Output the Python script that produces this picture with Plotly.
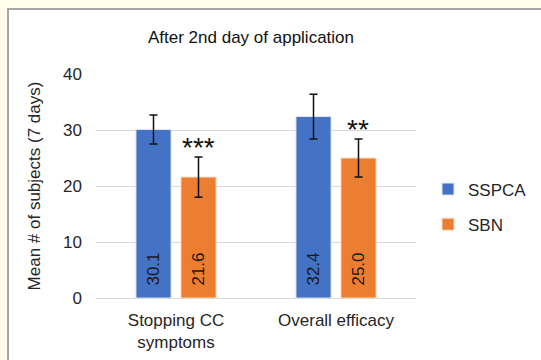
import plotly.graph_objects as go

categories = ["Stopping CC<br>symptoms", "Overall efficacy"]
sspca = [30.1, 32.4]
sbn = [21.6, 25.0]
sspca_err = [2.6, 4.0]
sbn_err = [3.6, 3.4]
significance = ["***", "**"]
y_ticks = [0, 10, 20, 30, 40]

W, H = 541, 360
L, R, T, B = 96, 125, 74, 62
pw, ph = W - L - R, H - T - B

def px_x(p):
    return (p - L) / pw

def px_y(p):
    return (H - B - p) / ph

blue = "#4472C4"
orange = "#ED7D31"
txt = "#262626"
font = "Liberation Sans, Arial, sans-serif"

fig = go.Figure()
fig.add_trace(go.Bar(
    name="SSPCA", x=categories, y=sspca,
    marker=dict(color=blue, line=dict(color="#dfe6f3", width=1)),
    error_y=dict(type="data", array=sspca_err, color="#111", thickness=1.5, width=4),
    text=["\u00a0\u00a0" + f"{v:.1f}" for v in sspca],
    textposition="inside", insidetextanchor="start", textangle=-90,
    textfont=dict(size=17, color="#1a1a1a", family=font),
    legendgroup="a",
))
fig.add_trace(go.Bar(
    name="SBN", x=categories, y=sbn,
    marker=dict(color=orange, line=dict(color="#f7dccb", width=1)),
    error_y=dict(type="data", array=sbn_err, color="#111", thickness=1.5, width=4),
    text=["\u00a0\u00a0" + f"{v:.1f}" for v in sbn],
    textposition="inside", insidetextanchor="start", textangle=-90,
    textfont=dict(size=17, color="#1a1a1a", family=font),
    legendgroup="b",
))

for c, v, e, s in zip(categories, sbn, sbn_err, significance):
    fig.add_annotation(x=c, y=v + e, text=s, showarrow=False, xshift=22,
                       yanchor="bottom", yshift=-8,
                       font=dict(size=28, color="#111", family=font))

# outer frame
fig.add_shape(type="rect", xref="paper", yref="paper",
              x0=px_x(8), x1=px_x(560), y0=px_y(380), y1=px_y(9),
              fillcolor="white", line=dict(color="#A6A6A6", width=2), layer="below")

fig.update_layout(
    width=W, height=H,
    margin=dict(l=L, r=R, t=T, b=B, pad=0, autoexpand=False),
    paper_bgcolor="#FFFDEB",
    plot_bgcolor="rgba(0,0,0,0)",
    barmode="group", bargap=0.4375, bargroupgap=0.22,
    font=dict(family=font, size=17, color=txt),
    title=dict(text="After 2nd day of application", x=251 / W, xanchor="center",
               y=1 - 37 / H, yanchor="middle", font=dict(size=17, color="#111")),
    legend=dict(x=px_x(428), xanchor="left", y=px_y(207), yanchor="middle",
                font=dict(size=17, color=txt), tracegroupgap=10,
                bgcolor="rgba(0,0,0,0)"),
    showlegend=True,
)
fig.update_xaxes(automargin=False, showline=False, showgrid=False, ticks="",
                 tickfont=dict(size=17, color=txt), ticklabelstandoff=10)
fig.update_yaxes(automargin=False, range=[0, 40], tickvals=y_ticks, showgrid=True,
                 gridcolor="#D9D9D9", gridwidth=1, zeroline=True, zerolinecolor="#D9D9D9",
                 zerolinewidth=1, showline=False, ticks="", ticklabelstandoff=13,
                 tickfont=dict(size=17, color=txt),
                 title=dict(text="Mean # of subjects (7 days)", standoff=18,
                            font=dict(size=17, color=txt)))

fig.write_html("out.html")
